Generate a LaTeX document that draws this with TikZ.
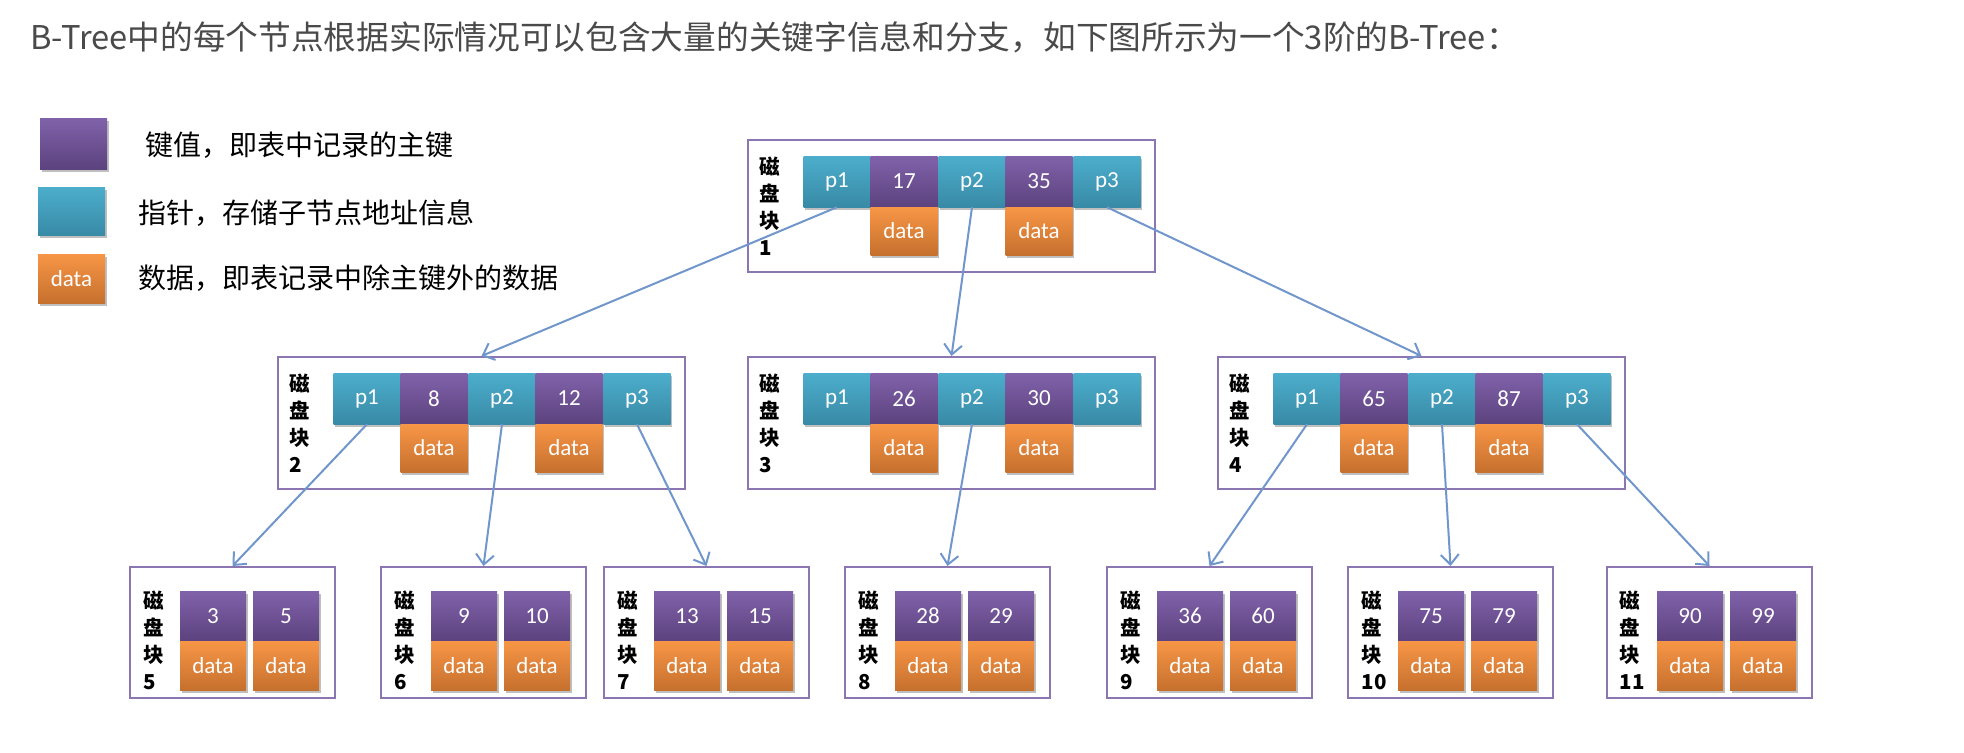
\documentclass[tikz,border=0pt]{standalone}
\usepackage{fontspec}
\setmainfont{Carlito}
\newfontfamily\cjk{Noto Sans CJK SC}
\usetikzlibrary{arrows.meta,shadows}

\definecolor{keytop}{RGB}{128,98,170}
\definecolor{keybot}{RGB}{92,66,126}
\definecolor{ptrtop}{RGB}{76,174,204}
\definecolor{ptrbot}{RGB}{56,138,166}
\definecolor{datatop}{RGB}{247,150,70}
\definecolor{databot}{RGB}{198,112,46}
\definecolor{boxline}{RGB}{140,118,178}
\definecolor{linkline}{RGB}{112,150,204}
\definecolor{titlegray}{RGB}{74,74,74}

\tikzset{
  cell/.style={minimum width=67pt, minimum height=51pt, inner sep=0pt, text=white,
    font=\fontsize{23}{26}\selectfont,
    drop shadow={shadow xshift=1.5pt, shadow yshift=-3pt, opacity=0.25, fill=black}},
  keycell/.style={cell, top color=keytop, bottom color=keybot},
  ptrcell/.style={cell, top color=ptrtop, bottom color=ptrbot},
  datacell/.style={cell, minimum height=48pt, top color=datatop, bottom color=databot},
  leafkey/.style={keycell, minimum width=66pt, minimum height=50pt},
  leafdata/.style={datacell, minimum width=66pt, minimum height=49pt},
  diskbox/.style={draw=boxline, line width=2pt, fill=white, minimum width=407pt,
    minimum height=132pt, inner sep=0pt},
  leafbox/.style={diskbox, minimum width=205pt, minimum height=131pt},
  disklabel/.style={align=left, inner sep=0pt, font=\cjk\bfseries\fontsize{20.5}{27}\selectfont},
  link/.style={draw=linkline, line width=2pt,
    -{Straight Barb[length=10pt,width=18pt,line width=2pt]}},
  legendtext/.style={anchor=west, inner sep=0pt, font=\cjk\fontsize{28}{32}\selectfont},
}

\begin{document}
\begin{tikzpicture}[x=1pt,y=-1pt]
   \useasboundingbox (0,0) rectangle (1964,752);
   % title
   \node[anchor=west, inner sep=0pt, text=titlegray, font=\cjk\fontsize{32.7}{36}\selectfont]
      (title) at (30,37) {B-Tree中的每个节点根据实际情况可以包含大量的关键字信息和分支，如下图所示为一个3阶的B-Tree：};
   % legend
   \node[keycell, minimum width=67pt, minimum height=51pt] (legkey) at (73.5,143.5) {};
   \node[ptrcell, minimum width=67pt, minimum height=48pt] (legptr) at (71.5,211) {};
   \node[datacell, minimum width=67pt, minimum height=49pt] (legdata) at (71.5,278.5) {data};
   \node[legendtext] (legkeytext) at (145,145) {键值，即表中记录的主键};
   \node[legendtext] (legptrtext) at (138,213) {指针，存储子节点地址信息};
   \node[legendtext] (legdatatext) at (138,278) {数据，即表记录中除主键外的数据};
   % disk block 1
   \node[diskbox] (b1) at (951.5,206) {};
   \node[disklabel] (b1lab) at (770,206) {磁\\盘\\块\\1};
   \node[ptrcell] (b1p1) at (837,181.5) {p1};
   \node[keycell] (b1k1) at (904,181.5) {17};
   \node[ptrcell] (b1p2) at (972,181.5) {p2};
   \node[keycell] (b1k2) at (1039,181.5) {35};
   \node[ptrcell] (b1p3) at (1107,181.5) {p3};
   \node[datacell] (b1d1) at (904,231) {data};
   \node[datacell] (b1d2) at (1039,231) {data};
   % disk block 2
   \node[diskbox] (b2) at (481.5,423) {};
   \node[disklabel] (b2lab) at (300,423) {磁\\盘\\块\\2};
   \node[ptrcell] (b2p1) at (367,398.5) {p1};
   \node[keycell] (b2k1) at (434,398.5) {8};
   \node[ptrcell] (b2p2) at (502,398.5) {p2};
   \node[keycell] (b2k2) at (569,398.5) {12};
   \node[ptrcell] (b2p3) at (637,398.5) {p3};
   \node[datacell] (b2d1) at (434,448) {data};
   \node[datacell] (b2d2) at (569,448) {data};
   % disk block 3
   \node[diskbox] (b3) at (951.5,423) {};
   \node[disklabel] (b3lab) at (770,423) {磁\\盘\\块\\3};
   \node[ptrcell] (b3p1) at (837,398.5) {p1};
   \node[keycell] (b3k1) at (904,398.5) {26};
   \node[ptrcell] (b3p2) at (972,398.5) {p2};
   \node[keycell] (b3k2) at (1039,398.5) {30};
   \node[ptrcell] (b3p3) at (1107,398.5) {p3};
   \node[datacell] (b3d1) at (904,448) {data};
   \node[datacell] (b3d2) at (1039,448) {data};
   % disk block 4
   \node[diskbox] (b4) at (1421.5,423) {};
   \node[disklabel] (b4lab) at (1240,423) {磁\\盘\\块\\4};
   \node[ptrcell] (b4p1) at (1307,398.5) {p1};
   \node[keycell] (b4k1) at (1374,398.5) {65};
   \node[ptrcell] (b4p2) at (1442,398.5) {p2};
   \node[keycell] (b4k2) at (1509,398.5) {87};
   \node[ptrcell] (b4p3) at (1577,398.5) {p3};
   \node[datacell] (b4d1) at (1374,448) {data};
   \node[datacell] (b4d2) at (1509,448) {data};
   % leaf blocks
   \node[leafbox] (b5) at (232.5,632.5) {};
   \node[disklabel] (b5lab) at (154,640) {磁\\盘\\块\\5};
   \node[leafkey] (b5k1) at (213,616) {3};
   \node[leafkey] (b5k2) at (286,616) {5};
   \node[leafdata] (b5d1) at (213,665.5) {data};
   \node[leafdata] (b5d2) at (286,665.5) {data};
   \node[leafbox] (b6) at (483.5,632.5) {};
   \node[disklabel] (b6lab) at (405,640) {磁\\盘\\块\\6};
   \node[leafkey] (b6k1) at (464,616) {9};
   \node[leafkey] (b6k2) at (537,616) {10};
   \node[leafdata] (b6d1) at (464,665.5) {data};
   \node[leafdata] (b6d2) at (537,665.5) {data};
   \node[leafbox] (b7) at (706.5,632.5) {};
   \node[disklabel] (b7lab) at (628,640) {磁\\盘\\块\\7};
   \node[leafkey] (b7k1) at (687,616) {13};
   \node[leafkey] (b7k2) at (760,616) {15};
   \node[leafdata] (b7d1) at (687,665.5) {data};
   \node[leafdata] (b7d2) at (760,665.5) {data};
   \node[leafbox] (b8) at (947.5,632.5) {};
   \node[disklabel] (b8lab) at (869,640) {磁\\盘\\块\\8};
   \node[leafkey] (b8k1) at (928,616) {28};
   \node[leafkey] (b8k2) at (1001,616) {29};
   \node[leafdata] (b8d1) at (928,665.5) {data};
   \node[leafdata] (b8d2) at (1001,665.5) {data};
   \node[leafbox] (b9) at (1209.5,632.5) {};
   \node[disklabel] (b9lab) at (1131,640) {磁\\盘\\块\\9};
   \node[leafkey] (b9k1) at (1190,616) {36};
   \node[leafkey] (b9k2) at (1263,616) {60};
   \node[leafdata] (b9d1) at (1190,665.5) {data};
   \node[leafdata] (b9d2) at (1263,665.5) {data};
   \node[leafbox] (b10) at (1450.5,632.5) {};
   \node[disklabel] (b10lab) at (1374,640) {磁\\盘\\块\\10};
   \node[leafkey] (b10k1) at (1431,616) {75};
   \node[leafkey] (b10k2) at (1504,616) {79};
   \node[leafdata] (b10d1) at (1431,665.5) {data};
   \node[leafdata] (b10d2) at (1504,665.5) {data};
   \node[leafbox] (b11) at (1709.5,632.5) {};
   \node[disklabel] (b11lab) at (1632,640) {磁\\盘\\块\\11};
   \node[leafkey] (b11k1) at (1690,616) {90};
   \node[leafkey] (b11k2) at (1763,616) {99};
   \node[leafdata] (b11d1) at (1690,665.5) {data};
   \node[leafdata] (b11d2) at (1763,665.5) {data};
   % pointers
   \draw[link] (b1p1.south) -- (b2.north);
   \draw[link] (b1p2.south) -- (b3.north);
   \draw[link] (b1p3.south) -- (b4.north);
   \draw[link] (b2p1.south) -- (b5.north);
   \draw[link] (b2p2.south) -- (b6.north);
   \draw[link] (b2p3.south) -- (b7.north);
   \draw[link] (b3p2.south) -- (b8.north);
   \draw[link] (b4p1.south) -- (b9.north);
   \draw[link] (b4p2.south) -- (b10.north);
   \draw[link] (b4p3.south) -- (b11.north);
\end{tikzpicture}
\end{document}
